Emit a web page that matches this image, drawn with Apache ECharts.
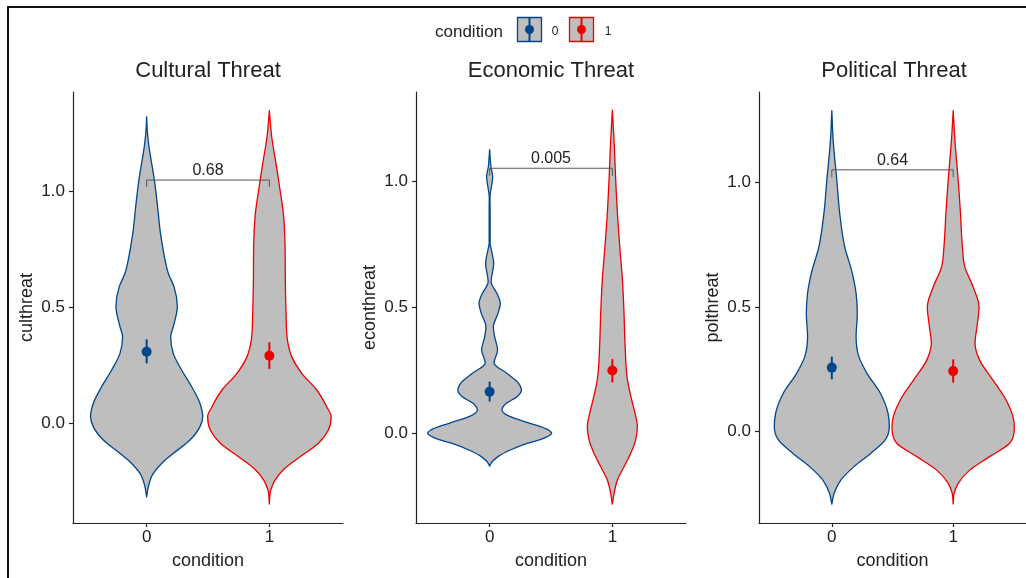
<!DOCTYPE html>
<html>
<head>
<meta charset="utf-8">
<script src="https://cdn.jsdelivr.net/npm/echarts@6/dist/echarts.min.js"></script>
<style>
  html, body { margin: 0; padding: 0; background: #ffffff; }
  #chart { width: 1026px; height: 578px; }
</style>
</head>
<body>
<div id="chart"></div>
<script>
// ---- data -------------------------------------------------------------
const panelTitles = ['Cultural Threat', 'Economic Threat', 'Political Threat'];
const yNames = ['culthreat', 'econthreat', 'polthreat'];
const conditions = ['0', '1'];
const condColors = ['#00468B', '#ED0000'];
const xTicks = [0, 1];
const yTicks = [0, 0.5, 1];
const yMin = [-0.43, -0.355, -0.366];
const yMax = [1.43, 1.352, 1.362];

// violin outlines: [value, half width in category units], bottom tip to top tip
const cultViolin0 = [[-0.317,0],[-0.273,0.014],[-0.216,0.054],[-0.173,0.122],[-0.13,0.217],[-0.072,0.353],[-0.014,0.435],[0.029,0.457],[0.086,0.435],[0.158,0.367],[0.23,0.285],[0.302,0.217],[0.374,0.196],[0.417,0.217],[0.504,0.25],[0.59,0.223],[0.647,0.177],[0.705,0.15],[0.763,0.13],[0.835,0.109],[0.906,0.095],[1.05,0.063],[1.122,0.041],[1.194,0.019],[1.266,0.005],[1.324,0]];
const cultViolin1 = [[-0.348,0],[-0.288,0.011],[-0.245,0.046],[-0.2,0.114],[-0.144,0.25],[-0.086,0.4],[-0.029,0.481],[0.029,0.503],[0.072,0.467],[0.144,0.386],[0.216,0.264],[0.288,0.182],[0.36,0.147],[0.475,0.136],[0.619,0.13],[0.763,0.128],[0.906,0.114],[1.007,0.087],[1.122,0.054],[1.237,0.019],[1.35,0]];
const econViolin0 = [[-0.13,0],[-0.119,0.011],[-0.093,0.065],[-0.066,0.169],[-0.04,0.305],[-0.02,0.44],[0,0.505],[0.013,0.48],[0.04,0.33],[0.066,0.169],[0.092,0.1],[0.119,0.136],[0.145,0.223],[0.171,0.259],[0.198,0.237],[0.238,0.14],[0.279,0.036],[0.33,0.065],[0.382,0.041],[0.422,0.03],[0.475,0.068],[0.515,0.087],[0.554,0.06],[0.6,0.012],[0.673,0.033],[0.726,0.014],[0.753,0.004],[0.857,0.004],[0.937,0.003],[0.976,0.014],[1.016,0.025],[1.055,0.011],[1.124,0]];
const econViolin1 = [[-0.28,0],[-0.238,0.014],[-0.185,0.041],[-0.132,0.095],[-0.079,0.15],[-0.026,0.19],[0.026,0.204],[0.079,0.185],[0.132,0.158],[0.212,0.123],[0.344,0.104],[0.476,0.095],[0.608,0.082],[0.741,0.06],[0.873,0.041],[1.005,0.027],[1.138,0.016],[1.28,0]];
const polViolin0 = [[-0.29,0],[-0.247,0.019],[-0.194,0.074],[-0.14,0.183],[-0.087,0.32],[-0.033,0.44],[0.02,0.474],[0.074,0.463],[0.154,0.4],[0.234,0.29],[0.301,0.223],[0.381,0.2],[0.475,0.21],[0.555,0.2],[0.635,0.169],[0.742,0.106],[0.876,0.065],[1.009,0.041],[1.17,0.011],[1.287,0]];
const polViolin1 = [[-0.29,0],[-0.247,0.008],[-0.207,0.041],[-0.154,0.136],[-0.1,0.3],[-0.047,0.463],[0.013,0.504],[0.047,0.499],[0.127,0.436],[0.207,0.327],[0.287,0.218],[0.354,0.18],[0.421,0.196],[0.501,0.213],[0.582,0.163],[0.662,0.095],[0.742,0.076],[0.876,0.06],[1.009,0.041],[1.17,0.014],[1.287,0]];

// group means with interval ends, per condition
const cultMean = [0.309, 0.292], cultLow = [0.259, 0.235], cultHigh = [0.363, 0.35];
const econMean = [0.165, 0.249], econLow = [0.126, 0.202], econHigh = [0.205, 0.294];
const polMean  = [0.257, 0.243], polLow  = [0.21, 0.197],  polHigh  = [0.301, 0.29];

// comparison brackets
const pLabels = ['0.68', '0.005', '0.64'];
const bracketTop = [1.05, 1.05, 1.05];
const bracketFoot = [1.02, 1.02, 1.02];

const violins = [[cultViolin0, cultViolin1], [econViolin0, econViolin1], [polViolin0, polViolin1]];
const means = [cultMean, econMean, polMean];
const lows = [cultLow, econLow, polLow];
const highs = [cultHigh, econHigh, polHigh];

// ---- helpers ----------------------------------------------------------
const FONT = "'Liberation Sans', Arial, Helvetica, sans-serif";
const TXT = '#222222';
const FILL = '#BEBEBE';

// smooth tangents of half width against value, limited so the curve never overshoots
function tangents(ys, hs) {
  const n = ys.length, d = [], m = new Array(n);
  for (let k = 0; k < n - 1; k++) d[k] = (hs[k + 1] - hs[k]) / (ys[k + 1] - ys[k]);
  m[0] = d[0]; m[n - 1] = d[n - 2];
  for (let k = 1; k < n - 1; k++) {
    if (d[k - 1] * d[k] <= 0) { m[k] = 0; continue; }
    const h0 = ys[k] - ys[k - 1], h1 = ys[k + 1] - ys[k];
    let t = (d[k - 1] * h1 + d[k] * h0) / (h0 + h1);
    const lim = 3 * Math.min(Math.abs(d[k - 1]), Math.abs(d[k]));
    if (Math.abs(t) > lim) t = Math.sign(t) * lim;
    m[k] = t;
  }
  return m;
}

function violinRenderer(profile, center, color) {
  const ys = profile.map(p => p[0]);
  const hs = profile.map(p => p[1]);
  const m = tangents(ys, hs);
  const n = ys.length;
  return function (params, api) {
    const pt = (y, h, side) => {
      const c = api.coord([center + side * Math.max(h, 0), y]);
      return c[0].toFixed(2) + ' ' + c[1].toFixed(2);
    };
    let d = 'M' + pt(ys[0], hs[0], 1);
    for (let k = 0; k < n - 1; k++) {
      const h = ys[k + 1] - ys[k];
      d += ' C' + pt(ys[k] + h / 3, hs[k] + m[k] * h / 3, 1) + ' ' +
           pt(ys[k + 1] - h / 3, hs[k + 1] - m[k + 1] * h / 3, 1) + ' ' +
           pt(ys[k + 1], hs[k + 1], 1);
    }
    for (let k = n - 1; k > 0; k--) {
      const h = ys[k] - ys[k - 1];
      d += ' C' + pt(ys[k] - h / 3, hs[k] - m[k] * h / 3, -1) + ' ' +
           pt(ys[k - 1] + h / 3, hs[k - 1] + m[k - 1] * h / 3, -1) + ' ' +
           pt(ys[k - 1], hs[k - 1], -1);
    }
    d += ' Z';
    return {
      type: 'path',
      shape: { pathData: d },
      style: { fill: FILL, stroke: color, lineWidth: 1.3, lineJoin: 'round' }
    };
  };
}

// ---- layout -----------------------------------------------------------
const gridLeft = [73, 416, 759];
const grids = gridLeft.map(l => ({ left: l, top: 92, width: 270, height: 431 }));

const xAxes = grids.map((g, i) => ({
  type: 'value', gridIndex: i, min: -0.6, max: 1.6,
  name: 'condition', nameLocation: 'middle', nameGap: 29,
  nameTextStyle: { fontFamily: FONT, fontSize: 18, color: TXT },
  axisLine: { onZero: false, lineStyle: { color: TXT, width: 1.2 } },
  axisTick: { customValues: xTicks, length: 4, lineStyle: { color: TXT, width: 1.2 } },
  axisLabel: { customValues: xTicks, formatter: v => conditions[Math.round(v)], margin: 6,
               fontFamily: FONT, fontSize: 17, color: TXT },
  splitLine: { show: false }
}));

const yAxes = grids.map((g, i) => ({
  type: 'value', gridIndex: i, min: yMin[i], max: yMax[i],
  name: yNames[i], nameLocation: 'middle', nameGap: 37, nameRotate: 90,
  nameTextStyle: { fontFamily: FONT, fontSize: 18, color: TXT },
  axisLine: { show: true, onZero: false, lineStyle: { color: TXT, width: 1.2 } },
  axisTick: { show: true, customValues: yTicks, length: 4, lineStyle: { color: TXT, width: 1.2 } },
  axisLabel: { customValues: yTicks, formatter: v => v.toFixed(1), margin: 8,
               fontFamily: FONT, fontSize: 17, color: TXT },
  splitLine: { show: false }
}));

const series = [];
for (let p = 0; p < 3; p++) {
  for (let c = 0; c < 2; c++) {
    series.push({
      type: 'custom', name: conditions[c], xAxisIndex: p, yAxisIndex: p,
      renderItem: violinRenderer(violins[p][c], xTicks[c], condColors[c]),
      data: [[xTicks[c], means[p][c]]], encode: { x: 0, y: 1 }, silent: true
    });
  }
  // comparison bracket with its p value
  series.push({
    type: 'custom', xAxisIndex: p, yAxisIndex: p, silent: true,
    data: [[xTicks[0], xTicks[1], bracketTop[p], bracketFoot[p]]],
    encode: { x: [0, 1], y: [2, 3] },
    renderItem: (params, api) => {
      const a = api.coord([api.value(0), api.value(3)]);
      const b = api.coord([api.value(0), api.value(2)]);
      const e = api.coord([api.value(1), api.value(2)]);
      const f = api.coord([api.value(1), api.value(3)]);
      return {
        type: 'group',
        children: [
          { type: 'polyline', shape: { points: [a, b, e, f] },
            style: { stroke: '#555555', lineWidth: 1, fill: null } },
          { type: 'text', x: (b[0] + e[0]) / 2, y: b[1] - 9.5,
            style: { text: pLabels[p], align: 'center', verticalAlign: 'middle',
                     fontFamily: FONT, fontSize: 16, fill: TXT } }
        ]
      };
    }
  });
  for (let c = 0; c < 2; c++) {
    series.push({
      type: 'custom', xAxisIndex: p, yAxisIndex: p, silent: true,
      data: [[xTicks[c], lows[p][c], highs[p][c]]],
      encode: { x: 0, y: [1, 2] },
      renderItem: (params, api) => {
        const lo = api.coord([api.value(0), api.value(1)]);
        const hi = api.coord([api.value(0), api.value(2)]);
        return { type: 'line', shape: { x1: lo[0], y1: lo[1], x2: hi[0], y2: hi[1] },
                 style: { stroke: condColors[c], lineWidth: 2 } };
      }
    });
    series.push({
      type: 'scatter', xAxisIndex: p, yAxisIndex: p, silent: true,
      symbol: 'circle', symbolSize: 10,
      itemStyle: { color: condColors[c], opacity: 1 },
      data: [[xTicks[c], means[p][c]]]
    });
  }
}

const titles = panelTitles.map((t, i) => ({
  text: t, left: gridLeft[i] + 135, top: 71, padding: 0,
  textAlign: 'center', textVerticalAlign: 'middle',
  textStyle: { fontFamily: FONT, fontSize: 22, fontWeight: 'normal', color: TXT }
}));

// legend keys: grey box with coloured outline, bar and dot
const legendKeyX = [517.5, 569.5];
const legendLabelX = [555, 608];
const legendItems = [
  { type: 'text', x: 435, y: 32, style: { text: 'condition', align: 'left', verticalAlign: 'middle',
    fontFamily: FONT, fontSize: 17, fill: TXT } }
];
conditions.forEach((lab, c) => {
  const x = legendKeyX[c];
  legendItems.push(
    { type: 'rect', shape: { x: x, y: 17.5, width: 24, height: 24 },
      style: { fill: FILL, stroke: condColors[c], lineWidth: 1.3 } },
    { type: 'line', shape: { x1: x + 12, y1: 17.5, x2: x + 12, y2: 41.5 },
      style: { stroke: condColors[c], lineWidth: 2 } },
    { type: 'circle', shape: { cx: x + 12, cy: 29.5, r: 4.5 }, style: { fill: condColors[c] } },
    { type: 'text', x: legendLabelX[c], y: 32, style: { text: lab, align: 'center', verticalAlign: 'middle',
      fontFamily: FONT, fontSize: 12, fill: TXT } }
  );
});

const chart = echarts.init(document.getElementById('chart'), null, { renderer: 'canvas' });
chart.setOption({
  backgroundColor: '#ffffff',
  animation: false,
  title: titles,
  grid: grids,
  xAxis: xAxes,
  yAxis: yAxes,
  series: series,
  graphic: [
    { type: 'rect', shape: { x: 8, y: 7, width: 1040, height: 600 },
      style: { fill: null, stroke: '#111111', lineWidth: 2 }, silent: true, z: -1 },
    { type: 'group', children: legendItems }
  ]
});
</script>
</body>
</html>
